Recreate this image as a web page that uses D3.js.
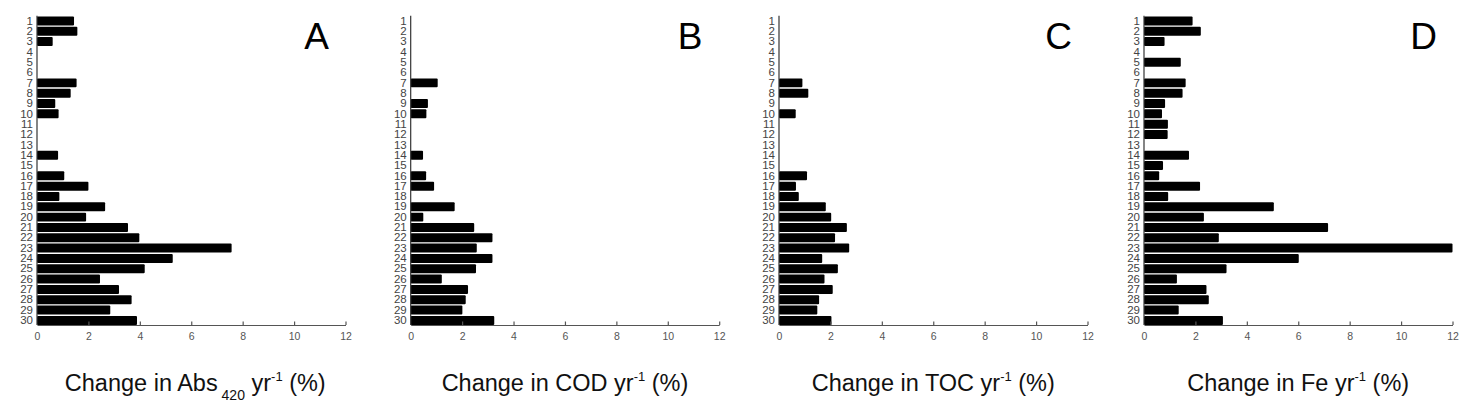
<!DOCTYPE html>
<html>
<head>
<meta charset="utf-8">
<script src="https://cdn.jsdelivr.net/npm/d3@7"></script>
<style>
  html, body { margin: 0; padding: 0; background: #fff; }
  svg { display: block; font-family: "Liberation Sans", Arial, sans-serif; }
</style>
</head>
<body>
<svg id="chart" width="1459" height="405"></svg>
<script>
// ---- data ----
const sites = d3.range(1, 31);
const absValues = [1.44, 1.57, 0.61, 0, 0, 0, 1.54, 1.31, 0.71, 0.84, 0, 0, 0, 0.82, 0, 1.06,
                   2.0, 0.87, 2.65, 1.91, 3.54, 3.98, 7.57, 5.28, 4.19, 2.45, 3.19, 3.68, 2.85, 3.89];
const codValues = [0, 0, 0, 0, 0, 0, 1.05, 0, 0.67, 0.61, 0, 0, 0, 0.48, 0, 0.6,
                   0.91, 0, 1.71, 0.49, 2.47, 3.18, 2.57, 3.18, 2.54, 1.21, 2.23, 2.14, 2.01, 3.25];
const tocValues = [0, 0, 0, 0, 0, 0, 0.91, 1.14, 0, 0.65, 0, 0, 0, 0, 0, 1.09,
                   0.66, 0.77, 1.82, 2.03, 2.64, 2.18, 2.73, 1.68, 2.29, 1.77, 2.09, 1.56, 1.49, 2.04];
const feValues  = [1.89, 2.21, 0.80, 0, 1.43, 0, 1.62, 1.50, 0.82, 0.70, 0.93, 0.92, 0, 1.75, 0.74, 0.59,
                   2.18, 0.94, 5.05, 2.33, 7.16, 2.91, 12.0, 6.02, 3.21, 1.28, 2.43, 2.52, 1.35, 3.07];
const xTicks = [0, 2, 4, 6, 8, 10, 12];
const panelLetters = ["A", "B", "C", "D"];
const panelVars = ["Abs", "COD", "TOC", "Fe"];

// ---- layout ----
const panelLefts = [37, 410.7, 779, 1144];
const panelWidth = 308.5;
const plotTop = 15.8, plotBottom = 325.5;
const axisY = 325;

const svg = d3.select("#chart");
const series = [absValues, codValues, tocValues, feValues];

const y = d3.scaleBand().domain(sites).range([plotTop, plotBottom]).paddingInner(0.13).paddingOuter(0.06);

series.forEach((vals, i) => {
  const left = panelLefts[i];
  const x = d3.scaleLinear().domain([0, 12]).range([left, left + panelWidth]);
  const g = svg.append("g");

  // bars
  g.selectAll("rect.bar").data(sites.map((s, k) => ({ site: s, v: vals[k] })).filter(d => d.v > 0))
    .join("rect")
    .attr("class", "bar")
    .attr("x", x(0))
    .attr("y", d => y(d.site))
    .attr("width", d => x(d.v) - x(0))
    .attr("height", y.bandwidth())
    .attr("rx", 1)
    .attr("fill", "#000");

  // x axis
  const xAxis = d3.axisBottom(x).tickValues(xTicks).tickSizeInner(-3.5).tickSizeOuter(0).tickPadding(8);
  const gx = g.append("g").attr("transform", `translate(0,${axisY})`).call(xAxis);
  gx.select(".domain").attr("stroke", "#555").attr("stroke-width", 1.2);
  gx.selectAll(".tick line").attr("stroke", "#555").attr("stroke-width", 1.2);
  gx.selectAll(".tick").filter(d => d === 0).select("line").remove();
  gx.selectAll(".tick text").attr("font-size", "10.5px").attr("fill", "#555")
    .attr("font-family", "'Liberation Sans', Arial, sans-serif");

  // y axis
  const yAxis = d3.axisLeft(y).tickSize(0).tickPadding(4);
  const gy = g.append("g").attr("transform", `translate(${x(0)},0)`).call(yAxis);
  gy.select(".domain").attr("stroke", "#333").attr("stroke-width", 1.2)
    .attr("d", `M0,${plotTop}V${axisY}`);
  gy.selectAll(".tick text").attr("font-size", "11.5px").attr("fill", "#444")
    .attr("font-family", "'Liberation Sans Narrow', 'Liberation Sans', Arial, sans-serif");

  // panel letter
  g.append("text")
    .attr("x", x(12) - 29)
    .attr("y", 49)
    .attr("text-anchor", "middle")
    .attr("font-size", "37px")
    .attr("fill", "#000")
    .text(panelLetters[i]);

  // axis title
  const t = g.append("text")
    .attr("x", (x(0) + x(12)) / 2 + (i === 0 ? 4 : 0))
    .attr("y", 391)
    .attr("text-anchor", "middle")
    .attr("font-size", "23.5px")
    .attr("fill", "#111");
  t.append("tspan").text("Change in " + panelVars[i]);
  if (i === 0) {
    t.append("tspan").attr("font-size", "14px").attr("dy", 9).text(" 420");
    t.append("tspan").attr("dy", -9).text(" yr");
  } else {
    t.append("tspan").text(" yr");
  }
  t.append("tspan").attr("font-size", "13px").attr("dy", -10).text("-1");
  t.append("tspan").attr("dy", 10).text(" (%)");
});
</script>
</body>
</html>
